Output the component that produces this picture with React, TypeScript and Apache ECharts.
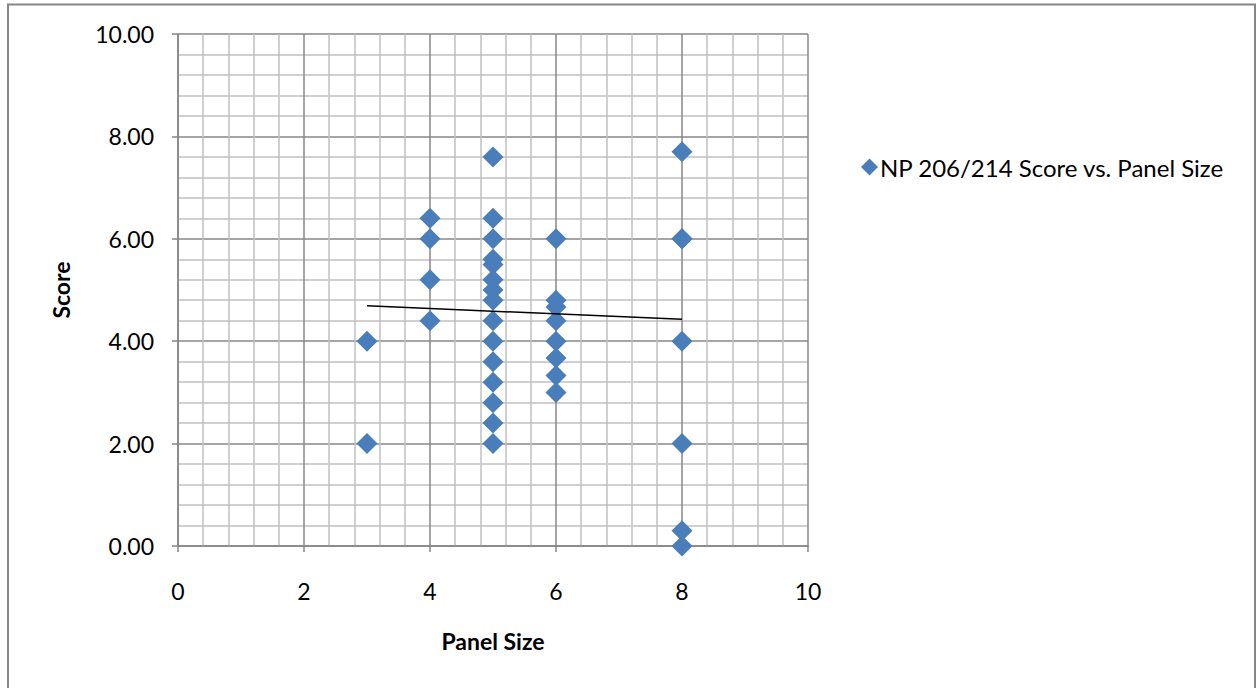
import React, { useEffect, useRef } from "react";
import * as echarts from "echarts";

const seriesName = "NP 206/214 Score vs. Panel Size";
const xTitle = "Panel Size";
const yTitle = "Score";

// Panel size (x) and score (y) for each point
const panelSizes = [
  3, 3,
  4, 4, 4, 4,
  5, 5, 5, 5, 5, 5, 5, 5, 5, 5, 5, 5, 5, 5, 5,
  6, 6, 6, 6, 6, 6, 6, 6,
  8, 8, 8, 8, 8, 8, 8,
];
const scores = [
  4.0, 2.0,
  6.4, 6.0, 5.2, 4.4,
  7.6, 6.4, 6.0, 5.6, 5.5, 5.2, 5.0, 4.8, 4.4, 4.0, 3.6, 3.2, 2.8, 2.4, 2.0,
  6.0, 4.8, 4.67, 4.4, 4.0, 3.67, 3.33, 3.0,
  7.7, 6.0, 6.0, 4.0, 2.0, 0.3, 0.0,
];

// Linear trend line endpoints
const trendX = [3, 8];
const trendY = [4.69, 4.43];

const FONT = "Lato, 'Open Sans', sans-serif";

export default function App() {
  const ref = useRef<HTMLDivElement>(null);
  useEffect(() => {
    if (!ref.current) return;
    const chart = echarts.init(ref.current, undefined, { renderer: "svg" });
    const points = panelSizes.map((x, i) => [x, scores[i]]);
    const trend = trendX.map((x, i) => [x, trendY[i]]);
    chart.setOption({
      animation: false,
      backgroundColor: "#ffffff",
      textStyle: { fontFamily: FONT },
      grid: { left: 178, top: 34, width: 630, height: 512, containLabel: false },
      legend: {
        left: 856,
        top: 150,
        icon: "diamond",
        itemWidth: 17,
        itemHeight: 17,
        itemGap: 4,
        data: [seriesName],
        textStyle: { fontFamily: FONT, fontSize: 24, color: "#000", padding: [0, 0, 0, -3] },
      },
      xAxis: {
        type: "value",
        min: 0,
        max: 10,
        interval: 2,
        name: xTitle,
        nameLocation: "middle",
        nameGap: 83,
        nameTextStyle: { fontFamily: FONT, fontSize: 23, fontWeight: "bold", color: "#000" },
        axisLine: { show: true, onZero: false, lineStyle: { color: "#868686", width: 1.5 } },
        axisTick: { show: true, length: 6, lineStyle: { color: "#868686", width: 1.5 } },
        axisLabel: { margin: 33, fontFamily: FONT, fontSize: 23, color: "#000" },
        splitLine: { show: true, lineStyle: { color: "#878787", width: 1.5 } },
        minorTick: { show: false, splitNumber: 5 },
        minorSplitLine: { show: true, lineStyle: { color: "#c0c0c0", width: 1.5 } },
      },
      yAxis: {
        type: "value",
        min: 0,
        max: 10,
        interval: 2,
        name: yTitle,
        nameLocation: "middle",
        nameGap: 106,
        nameRotate: 90,
        nameTextStyle: { fontFamily: FONT, fontSize: 23, fontWeight: "bold", color: "#000" },
        axisLine: { show: true, onZero: false, lineStyle: { color: "#868686", width: 1.5 } },
        axisTick: { show: true, length: 6, lineStyle: { color: "#868686", width: 1.5 } },
        axisLabel: {
          margin: 24,
          fontFamily: FONT,
          fontSize: 23,
          color: "#000",
          formatter: (v: number) => v.toFixed(2),
        },
        splitLine: { show: true, lineStyle: { color: "#878787", width: 1.5 } },
        minorTick: { show: false, splitNumber: 5 },
        minorSplitLine: { show: true, lineStyle: { color: "#c0c0c0", width: 1.5 } },
      },
      series: [
        {
          name: seriesName,
          type: "scatter",
          symbol: "diamond",
          symbolSize: 21,
          itemStyle: { color: "#4A7EBB", opacity: 1 },
          data: points,
          z: 3,
        },
        {
          name: "trend",
          type: "line",
          data: trend,
          symbol: "none",
          lineStyle: { color: "#000000", width: 1.5 },
          z: 4,
        },
      ],
      graphic: [
        {
          type: "rect",
          shape: { x: 8, y: 4.5, width: 1247, height: 720 },
          style: { fill: "none", stroke: "#868686", lineWidth: 2 },
          silent: true,
        },
      ],
    });
    return () => chart.dispose();
  }, []);
  return (
    <div
      ref={ref}
      style={{ position: "fixed", left: 0, top: 0, width: 1257, height: 688, background: "#fff" }}
    />
  );
}
